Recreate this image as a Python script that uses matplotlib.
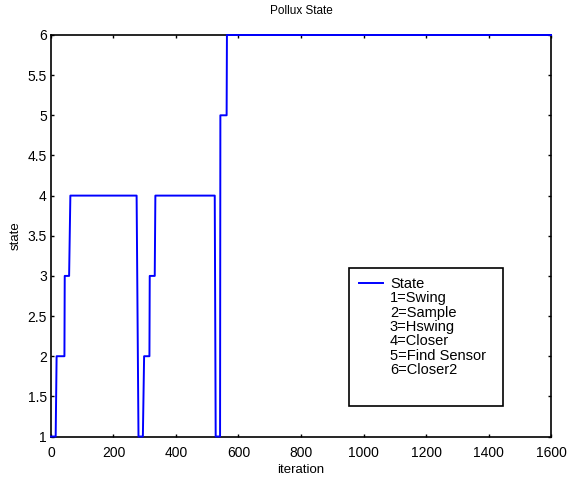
import matplotlib
matplotlib.use("Agg")
import matplotlib.pyplot as plt
from matplotlib.lines import Line2D
from matplotlib.patches import Rectangle

plt.rcParams['font.family'] = ['Liberation Sans', 'DejaVu Sans']

# state changes (iteration, state)
iteration = [0, 15, 18, 43, 44, 58, 62, 274, 280, 294, 298, 315, 316,
             332, 334, 524, 527, 541, 542, 562, 563, 1600]
state = [1, 1, 2, 2, 3, 3, 4, 4, 1, 1, 2, 2, 3,
         3, 4, 4, 1, 1, 5, 5, 6, 6]

legend_labels = ["State", "1=Swing", "2=Sample", "3=Hswing", "4=Closer",
                 "5=Find Sensor", "6=Closer2"]

fig = plt.figure(figsize=(5.69, 4.84), dpi=100)
ax = fig.add_axes([0.0896, 0.0981, 0.8788, 0.8296])

line, = ax.plot(iteration, state, color=(0, 0, 1), linewidth=1.4,
                clip_on=False, zorder=3)

ax.set_xlim(0, 1600)
ax.set_ylim(1, 6)
ax.set_xticks(range(0, 1601, 200))
ax.set_yticks([1, 1.5, 2, 2.5, 3, 3.5, 4, 4.5, 5, 5.5, 6])
ax.set_yticklabels(["1", "1.5", "2", "2.5", "3", "3.5", "4", "4.5", "5", "5.5", "6"])
ax.tick_params(direction='in', top=True, right=True, length=2.5, width=1.0,
               labelsize=10, pad=3)
ax.tick_params(axis='x', pad=7)
for s in ax.spines.values():
    s.set_linewidth(1.2)

ax.set_title("Pollux State", fontsize=8.5, pad=15)
ax.set_xlabel("iteration", fontsize=9.5, labelpad=3)
ax.set_ylabel("state", fontsize=9.5, labelpad=4)

# legend: only the first entry has a line
handles = [line] + [Line2D([], [], linestyle='none') for _ in legend_labels[1:]]
leg = ax.legend(handles, legend_labels, loc='upper left',
                bbox_to_anchor=(0.602, 0.415), frameon=False, fontsize=10.5,
                handlelength=1.6, handletextpad=0.5, labelspacing=0.02,
                borderaxespad=0, borderpad=0.5)
ax.add_patch(Rectangle((0.596, 0.076), 0.308, 0.344, transform=ax.transAxes,
                       fill=False, edgecolor='black', linewidth=1.2, zorder=5))

fig.savefig("out.png", dpi=100)
